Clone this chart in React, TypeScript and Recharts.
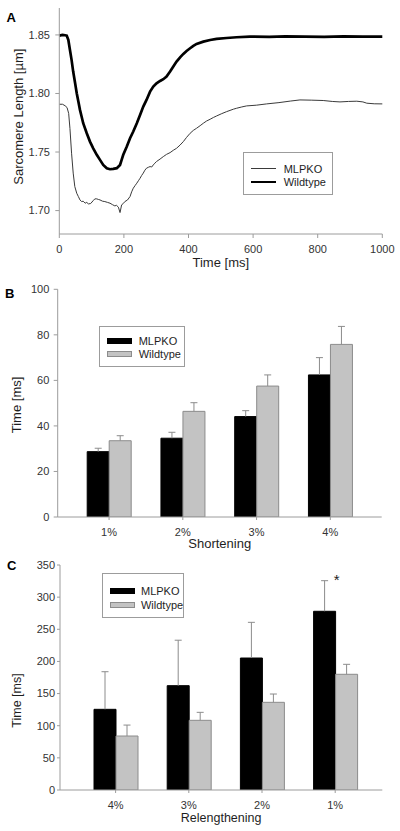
import React from 'react';
import { LineChart, Line, BarChart, Bar, XAxis, YAxis, Legend, LabelList } from 'recharts';

const FONT = '"Liberation Sans", Arial, Helvetica, sans-serif';
const FRAME = '#9c9c9c';
const INK = '#1e1e1e';
const TICK = '#333333';

// ---- panel A: sarcomere length traces ----
const mlpkoTime = [
  0, 10, 18, 24, 29, 33, 38, 43, 48, 54, 59, 64, 69, 74, 80, 85, 90, 97, 105, 110,
  116, 121, 126, 134, 141, 149, 157, 165, 172, 177, 183, 188, 193, 198, 203, 211, 219, 224, 229, 235,
  240, 245, 250, 255, 260, 265, 270, 276, 281, 286, 291, 296, 301, 312, 322, 332, 343, 353, 363, 374,
  384, 394, 405, 415, 425, 436, 446, 456, 467, 477, 487, 503, 518, 539, 549, 565, 580, 610, 642, 680,
  715, 745, 780, 817, 845, 869, 895, 921, 940, 952, 975, 1000,
];
const mlpkoLength = [
  1.7908, 1.7908, 1.7895, 1.788, 1.783, 1.77, 1.749, 1.732, 1.7205, 1.7148, 1.712, 1.7091, 1.7077, 1.708, 1.7063, 1.707, 1.7057, 1.706, 1.7085, 1.71,
  1.71, 1.7095, 1.7091, 1.708, 1.7077, 1.707, 1.7063, 1.705, 1.704, 1.7045, 1.7029, 1.6983, 1.7049, 1.706, 1.7077, 1.709, 1.712, 1.716, 1.7191, 1.7215,
  1.7234, 1.7255, 1.7276, 1.73, 1.732, 1.7345, 1.7362, 1.737, 1.7376, 1.7372, 1.739, 1.7405, 1.7419, 1.744, 1.7461, 1.748, 1.7495, 1.7515, 1.7532, 1.756,
  1.7589, 1.7625, 1.766, 1.7685, 1.7703, 1.7725, 1.7746, 1.7765, 1.778, 1.7795, 1.7808, 1.7828, 1.7845, 1.7866, 1.7874, 1.7885, 1.7894, 1.79, 1.7911, 1.7922,
  1.7935, 1.7945, 1.7943, 1.794, 1.7932, 1.7928, 1.7932, 1.7934, 1.7928, 1.7917, 1.7912, 1.7911,
];
const wtTime = [
  0, 10, 18, 23, 28, 33, 38, 43, 49, 54, 59, 64, 69, 74, 85, 95, 105, 116, 126, 136,
  147, 157, 167, 178, 188, 193, 198, 209, 219, 229, 240, 250, 260, 270, 281, 291, 301, 312, 322, 332,
  343, 353, 363, 374, 384, 394, 405, 415, 425, 446, 467, 487, 518, 549, 590, 650, 700, 760, 820, 880,
  940, 1000,
];
const wtLength = [
  1.8494, 1.85, 1.8497, 1.8494, 1.8457, 1.8372, 1.8287, 1.8187, 1.8087, 1.8002, 1.7931, 1.786, 1.7803, 1.7746, 1.766, 1.7589, 1.7532, 1.7476, 1.7433, 1.739,
  1.7362, 1.7353, 1.7356, 1.7362, 1.739, 1.7433, 1.7476, 1.7547, 1.7618, 1.7675, 1.7746, 1.7817, 1.7888, 1.7945, 1.8016, 1.8059, 1.8087, 1.8107, 1.8122, 1.8144,
  1.8187, 1.823, 1.8272, 1.8309, 1.8338, 1.8363, 1.8386, 1.8406, 1.8423, 1.8443, 1.8457, 1.8466, 1.8474, 1.848, 1.8486, 1.8484, 1.8488, 1.8486, 1.8483, 1.8487,
  1.8485, 1.8486,
];
const timeTicks = [0, 200, 400, 600, 800, 1000];
const lengthTicks = [1.7, 1.75, 1.8, 1.85];
const lengthDomain = [1.68, 1.873];

// ---- panel B: shortening ----
const shortCats = ['1%', '2%', '3%', '4%'];
const shortMlpko = [28.7, 34.6, 44.1, 62.4];
const shortMlpkoErr = [1.5, 2.6, 2.6, 7.6];
const shortWt = [33.5, 46.4, 57.5, 75.8];
const shortWtErr = [2.2, 3.8, 4.9, 7.9];
const shortTicks = [0, 20, 40, 60, 80, 100];

// ---- panel C: relengthening ----
const relenCats = ['4%', '3%', '2%', '1%'];
const relenMlpko = [125.5, 162.3, 205.3, 278];
const relenMlpkoErr = [58.5, 70.7, 55.5, 47.6];
const relenWt = [84, 108.4, 136.4, 180];
const relenWtErr = [17, 12.4, 12.9, 15.5];
const relenSig = ['', '', '', '*'];
const relenTicks = [0, 50, 100, 150, 200, 250, 300, 350];

const mlpkoTrace = mlpkoTime.map((t, i) => ({ t, v: mlpkoLength[i] }));
const wtTrace = wtTime.map((t, i) => ({ t, v: wtLength[i] }));

const shorteningData = shortCats.map((cat, i) => ({
  cat,
  mlpko: shortMlpko[i],
  mlpkoErr: shortMlpkoErr[i],
  wt: shortWt[i],
  wtErr: shortWtErr[i],
}));

const relengtheningData = relenCats.map((cat, i) => ({
  cat,
  mlpko: relenMlpko[i],
  mlpkoErr: relenMlpkoErr[i],
  wt: relenWt[i],
  wtErr: relenWtErr[i],
  sig: relenSig[i],
}));

const lineStyle: Record<string, { color: string; width: number }> = {
  MLPKO: { color: '#3a3a3a', width: 1 },
  Wildtype: { color: '#000000', width: 2.7 },
};
const barStyle: Record<string, { fill: string; stroke: string }> = {
  MLPKO: { fill: '#000000', stroke: '#000000' },
  Wildtype: { fill: '#c3c3c3', stroke: '#8c8c8c' },
};

const tickFont = { fontSize: 11, fill: TICK, fontFamily: FONT };

const XTitle = (props: any) => {
  const { viewBox, text, dy, size } = props;
  if (!viewBox) return null;
  return (
    <text x={viewBox.x + viewBox.width / 2} y={viewBox.y + dy} textAnchor="middle"
      fontSize={size} fontFamily={FONT} fill={INK}>
      {text}
    </text>
  );
};

const YTitle = (props: any) => {
  const { viewBox, text, bx, shift, size } = props;
  if (!viewBox) return null;
  const cy = viewBox.y + viewBox.height / 2 + shift;
  return (
    <text x={bx} y={cy} transform={`rotate(-90, ${bx}, ${cy})`} textAnchor="middle"
      fontSize={size} fontFamily={FONT} fill={INK}>
      {text}
    </text>
  );
};

// upper error whisker, drawn as a stacked segment on top of its bar
const Whisker = (props: any) => {
  const { x, y, width, height, tone } = props;
  if (x == null || !height) return null;
  const cx = x + width / 2;
  return (
    <g>
      <line x1={cx} y1={y} x2={cx} y2={y + height} stroke={tone} strokeWidth={1} />
      <line x1={cx - 3.5} y1={y} x2={cx + 3.5} y2={y} stroke={tone} strokeWidth={1} />
    </g>
  );
};

const SigMark = (props: any) => {
  const vb = props.viewBox || props;
  if (!props.value || vb.x == null) return null;
  return (
    <text x={vb.x + vb.width + 1} y={vb.y + 4} textAnchor="middle" fontSize={15}
      fontFamily={FONT} fill={INK}>
      {props.value}
    </text>
  );
};

const LegendBox = ({ payload, kind, rowTop, rowGap, textLeft }: any) => {
  const items = (payload || []).filter((p: any) => p.type !== 'none');
  return (
    <div style={{
      position: 'relative', width: '100%', height: '100%', boxSizing: 'border-box',
      border: `1px solid ${FRAME}`, background: '#fff', fontFamily: FONT,
    }}>
      {items.map((it: any, i: number) => {
        const name = String(it.value);
        const cy = rowTop + rowGap * i;
        const h = kind === 'line' ? lineStyle[name].width : 6;
        const swatch = kind === 'line'
          ? { background: lineStyle[name].color }
          : { background: barStyle[name].fill, border: `1px solid ${barStyle[name].stroke}` };
        return (
          <React.Fragment key={name}>
            <div style={{
              position: 'absolute', left: 7, top: cy - h / 2, width: 25, height: h,
              boxSizing: 'border-box', ...swatch,
            }} />
            <div style={{
              position: 'absolute', left: textLeft, top: cy - 7, lineHeight: '14px',
              fontSize: 11, color: INK, whiteSpace: 'nowrap',
            }}>
              {name}
            </div>
          </React.Fragment>
        );
      })}
    </div>
  );
};

const PanelLetter = ({ x, y, children }: any) => (
  <text x={x} y={y} fontSize={13} fontWeight="bold" fontFamily={FONT} fill="#000">{children}</text>
);

const App = () => {
  return (
    <div style={{ position: 'absolute', left: 0, top: 0, width: 400, height: 831, background: '#fff' }}>
      {/* A */}
      <div style={{ position: 'absolute', left: 0, top: 0 }}>
        <LineChart width={400} height={275} margin={{ top: 8, right: 17.7, bottom: 0, left: 0 }}>
          <XAxis dataKey="t" type="number" domain={[0, 1000]} ticks={timeTicks} interval={0}
            tick={tickFont} tickSize={4} tickMargin={7.4} height={41}
            axisLine={{ stroke: FRAME }} tickLine={{ stroke: FRAME }}
            label={<XTitle text="Time [ms]" dy={33} size={13} />} />
          <XAxis xAxisId="top" orientation="top" dataKey="t" type="number" domain={[0, 1000]}
            tick={false} tickLine={false} height={0} axisLine={{ stroke: FRAME }} />
          <YAxis type="number" domain={lengthDomain} allowDataOverflow ticks={lengthTicks} interval={0}
            tickFormatter={(v: number) => v.toFixed(2)} tick={tickFont} tickSize={4} tickMargin={5.3}
            width={59.3} axisLine={{ stroke: FRAME }} tickLine={{ stroke: FRAME }}
            label={<YTitle text="Sarcomere Length [µm]" bx={22.7} shift={-4.3} size={13} />} />
          <YAxis yAxisId="right" orientation="right" type="number" domain={lengthDomain}
            tick={false} tickLine={false} width={0} axisLine={{ stroke: FRAME }} />
          <Legend layout="vertical" align="center" verticalAlign="middle"
            wrapperStyle={{ left: 243.3, top: 152.3, width: 89.4, height: 42.7 }}
            content={(p: any) => <LegendBox payload={p.payload} kind="line" rowTop={15.4} rowGap={13.3} textLeft={39.4} />} />
          <Line data={mlpkoTrace} dataKey="v" name="MLPKO" type="linear" stroke={lineStyle.MLPKO.color}
            strokeWidth={lineStyle.MLPKO.width} dot={false} isAnimationActive={false} />
          <Line data={wtTrace} dataKey="v" name="Wildtype" type="linear" stroke={lineStyle.Wildtype.color}
            strokeWidth={lineStyle.Wildtype.width} dot={false} isAnimationActive={false} />
        </LineChart>
      </div>

      {/* B */}
      <div style={{ position: 'absolute', left: 0, top: 280 }}>
        <BarChart width={400} height={272} data={shorteningData} barSize={22} barGap={0}
          margin={{ top: 9.3, right: 18.3, bottom: 0, left: 0 }}>
          <XAxis dataKey="cat" padding={{ left: 14.5, right: 14.5 }} interval={0}
            tick={tickFont} tickSize={3} tickMargin={8.4} height={35}
            axisLine={{ stroke: FRAME }} tickLine={{ stroke: FRAME }}
            label={<XTitle text="Shortening" dy={31} size={13} />} />
          <XAxis xAxisId="top" orientation="top" dataKey="cat" tick={false} tickLine={false}
            height={0} axisLine={{ stroke: FRAME }} />
          <YAxis type="number" domain={[0, 100]} ticks={shortTicks} interval={0} allowDataOverflow
            tick={tickFont} tickSize={4} tickMargin={4.4} width={57.7}
            axisLine={{ stroke: FRAME }} tickLine={{ stroke: FRAME }}
            label={<YTitle text="Time [ms]" bx={21.3} shift={1.8} size={13} />} />
          <YAxis yAxisId="right" orientation="right" type="number" domain={[0, 100]}
            tick={false} tickLine={false} width={0} axisLine={{ stroke: FRAME }} />
          <Legend layout="vertical" align="center" verticalAlign="middle"
            wrapperStyle={{ left: 99.3, top: 45.7, width: 86, height: 41.6 }}
            content={(p: any) => <LegendBox payload={p.payload} kind="bar" rowTop={14.3} rowGap={13} textLeft={38.4} />} />
          <Bar dataKey="mlpko" name="MLPKO" stackId="m" fill={barStyle.MLPKO.fill}
            stroke={barStyle.MLPKO.stroke} isAnimationActive={false} />
          <Bar dataKey="mlpkoErr" stackId="m" legendType="none" isAnimationActive={false}
            shape={(p: any) => <Whisker {...p} tone="#8c8c8c" />} />
          <Bar dataKey="wt" name="Wildtype" stackId="w" fill={barStyle.Wildtype.fill}
            stroke={barStyle.Wildtype.stroke} isAnimationActive={false} />
          <Bar dataKey="wtErr" stackId="w" legendType="none" isAnimationActive={false}
            shape={(p: any) => <Whisker {...p} tone="#8c8c8c" />} />
        </BarChart>
      </div>

      {/* C */}
      <div style={{ position: 'absolute', left: 0, top: 555 }}>
        <BarChart width={400} height={276} data={relengtheningData} barSize={22} barGap={0}
          margin={{ top: 10, right: 17.7, bottom: 0, left: 0 }}>
          <XAxis dataKey="cat" padding={{ left: 19, right: 10.5 }} interval={0}
            tick={tickFont} tickSize={3} tickMargin={8.1} height={41}
            axisLine={{ stroke: FRAME }} tickLine={{ stroke: FRAME }}
            label={<XTitle text="Relengthening" dy={32.2} size={12.5} />} />
          <XAxis xAxisId="top" orientation="top" dataKey="cat" tick={false} tickLine={false}
            height={0} axisLine={{ stroke: FRAME }} />
          <YAxis type="number" domain={[0, 350]} ticks={relenTicks} interval={0} allowDataOverflow
            tick={tickFont} tickSize={3} tickMargin={2} width={60}
            axisLine={{ stroke: FRAME }} tickLine={{ stroke: FRAME }}
            label={<YTitle text="Time [ms]" bx={21} shift={23} size={12.5} />} />
          <YAxis yAxisId="right" orientation="right" type="number" domain={[0, 350]}
            tick={false} tickLine={false} width={0} axisLine={{ stroke: FRAME }} />
          <Legend layout="vertical" align="center" verticalAlign="middle"
            wrapperStyle={{ left: 102.3, top: 18.3, width: 81.4, height: 45 }}
            content={(p: any) => <LegendBox payload={p.payload} kind="bar" rowTop={17} rowGap={13.5} textLeft={37.7} />} />
          <Bar dataKey="mlpko" name="MLPKO" stackId="m" fill={barStyle.MLPKO.fill}
            stroke={barStyle.MLPKO.stroke} isAnimationActive={false} />
          <Bar dataKey="mlpkoErr" stackId="m" legendType="none" isAnimationActive={false}
            shape={(p: any) => <Whisker {...p} tone="#8c8c8c" />}>
            <LabelList dataKey="sig" content={<SigMark />} />
          </Bar>
          <Bar dataKey="wt" name="Wildtype" stackId="w" fill={barStyle.Wildtype.fill}
            stroke={barStyle.Wildtype.stroke} isAnimationActive={false} />
          <Bar dataKey="wtErr" stackId="w" legendType="none" isAnimationActive={false}
            shape={(p: any) => <Whisker {...p} tone="#8c8c8c" />} />
        </BarChart>
      </div>

      <svg width={400} height={831} style={{ position: 'absolute', left: 0, top: 0, pointerEvents: 'none' }}>
        <PanelLetter x={6.5} y={22}>A</PanelLetter>
        <PanelLetter x={5} y={298.3}>B</PanelLetter>
        <PanelLetter x={7} y={570}>C</PanelLetter>
      </svg>
    </div>
  );
};

export default App;
